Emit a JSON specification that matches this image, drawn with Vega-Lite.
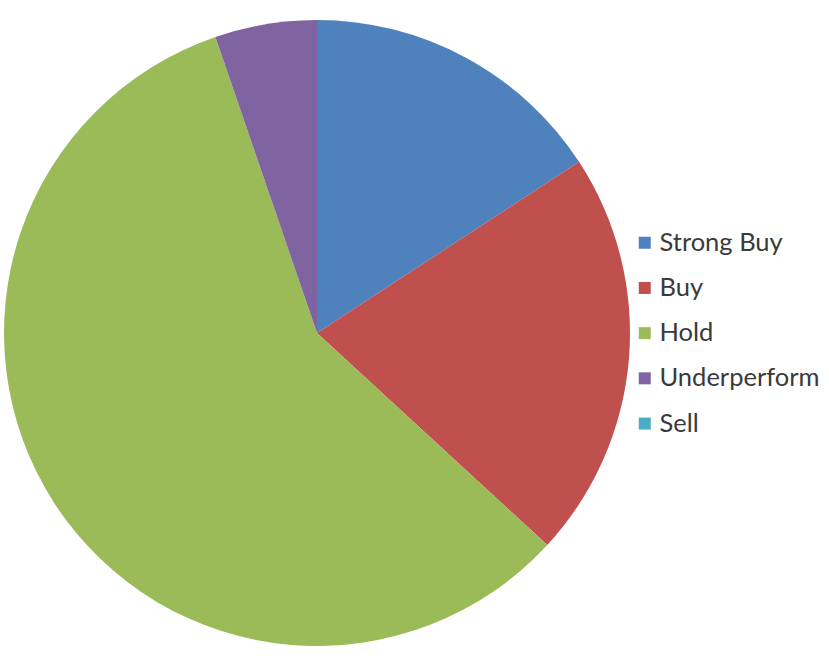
{
  "$schema": "https://vega.github.io/schema/vega-lite/v6.json",
  "width": 634,
  "height": 666,
  "padding": 0,
  "autosize": {"type": "pad"},
  "background": "white",
  "view": {"stroke": null},
  "data": {
    "values": [
      {"rating": "Strong Buy", "count": 3, "order": 1},
      {"rating": "Buy", "count": 4, "order": 2},
      {"rating": "Hold", "count": 11, "order": 3},
      {"rating": "Underperform", "count": 1, "order": 4},
      {"rating": "Sell", "count": 0, "order": 5}
    ]
  },
  "mark": {"type": "arc", "outerRadius": 313, "stroke": null},
  "encoding": {
    "theta": {"field": "count", "type": "quantitative", "stack": true},
    "order": {"field": "order", "type": "quantitative"},
    "color": {
      "field": "rating",
      "type": "nominal",
      "sort": ["Strong Buy", "Buy", "Hold", "Underperform", "Sell"],
      "scale": {
        "domain": ["Strong Buy", "Buy", "Hold", "Underperform", "Sell"],
        "range": ["#4F81BD", "#C0504D", "#9BBB59", "#8064A2", "#4BACC6"]
      },
      "legend": {
        "title": null,
        "orient": "none",
        "legendX": 632,
        "legendY": 230,
        "symbolType": "square",
        "symbolSize": 144,
        "symbolStrokeWidth": 0,
        "labelFont": "Lato",
        "labelFontSize": 25.5,
        "labelColor": "#3a3a3a",
        "labelOffset": 2,
        "rowPadding": 18.2,
        "labelLimit": 300
      }
    }
  }
}
